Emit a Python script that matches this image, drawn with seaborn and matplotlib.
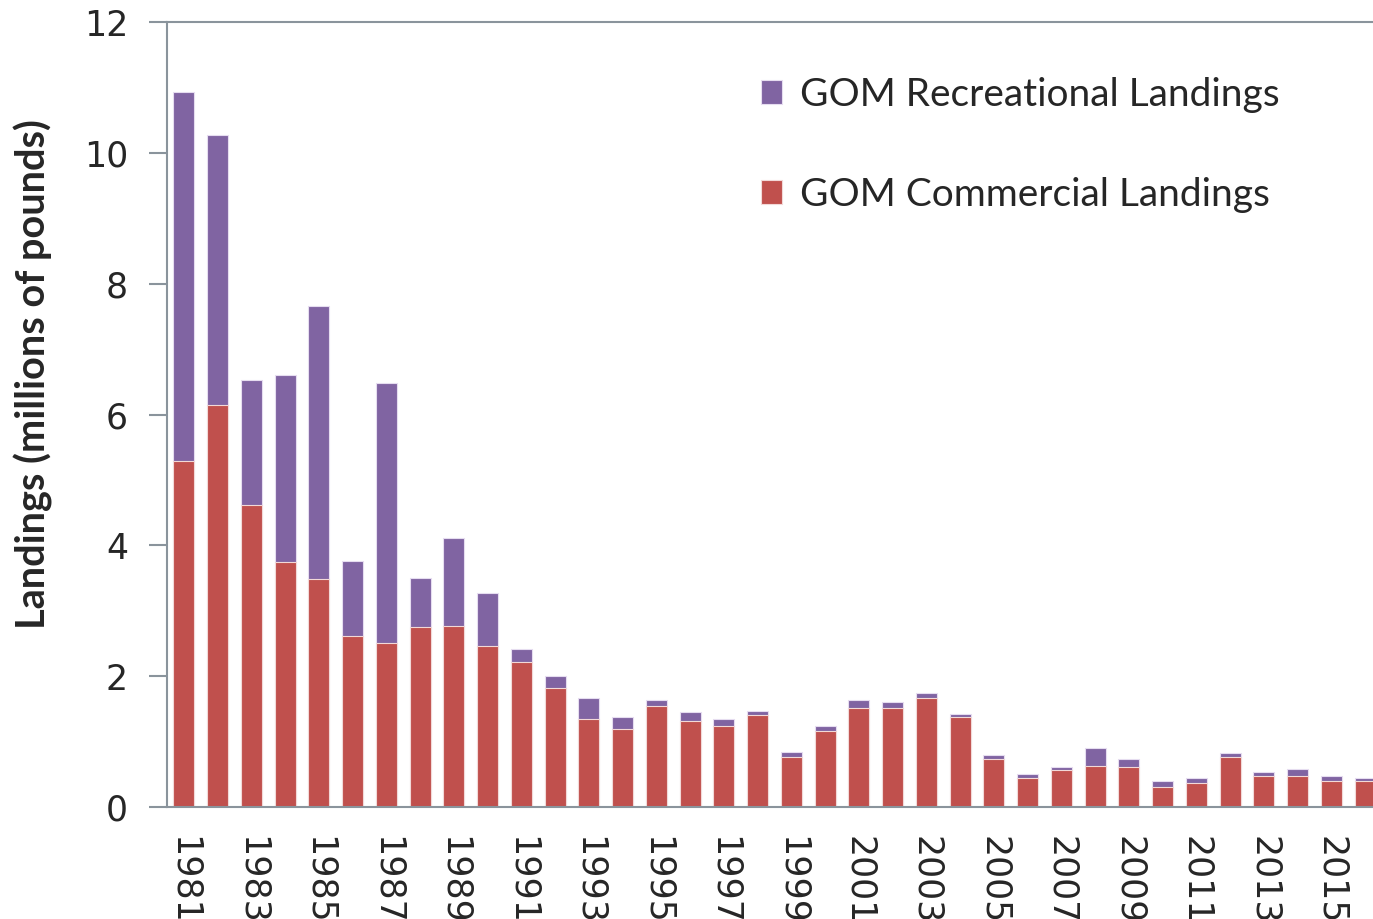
import seaborn as sns
import matplotlib.pyplot as plt
import pandas as pd

# dados (milhões de libras)
anos = list(range(1981, 2017))
total = [10.93, 10.28, 6.53, 6.61, 7.66, 3.76, 6.48, 3.50, 4.11, 3.27,
         2.42, 2.00, 1.66, 1.37, 1.63, 1.45, 1.34, 1.47, 0.84, 1.24,
         1.63, 1.61, 1.74, 1.42, 0.79, 0.50, 0.61, 0.90, 0.74, 0.39,
         0.45, 0.82, 0.53, 0.58, 0.47, 0.45]
comercial = [5.29, 6.15, 4.62, 3.75, 3.49, 2.61, 2.51, 2.75, 2.77, 2.46,
             2.22, 1.82, 1.34, 1.19, 1.55, 1.32, 1.24, 1.40, 0.76, 1.16,
             1.52, 1.52, 1.66, 1.37, 0.74, 0.45, 0.56, 0.63, 0.61, 0.30,
             0.37, 0.76, 0.48, 0.48, 0.40, 0.40]

df = pd.DataFrame({'ano': [str(a) for a in anos], 'total': total, 'comercial': comercial})

sns.set_style("white")
plt.rcParams['font.family'] = ['DejaVu Sans']

fig = plt.figure(figsize=(13.73, 9.19), dpi=100)
ax = fig.add_axes([167 / 1373, 1 - 807 / 919, (1382 - 167) / 1373, (807 - 22) / 919])

# barras empilhadas: total (roxo) por baixo, comercial (vermelho) por cima
sns.barplot(data=df, x='ano', y='total', color='#8064A2', width=0.62,
            edgecolor='#E6DDF0', linewidth=0.8, saturation=1, ax=ax,
            label='GOM Recreational Landings')
sns.barplot(data=df, x='ano', y='comercial', color='#C0504D', width=0.62,
            edgecolor='#F2D9D8', linewidth=0.8, saturation=1, ax=ax,
            label='GOM Commercial Landings')

ax.set_ylim(0, 12)
ax.set_yticks(range(0, 13, 2))
ax.set_xlim(-0.5, len(anos) - 0.5)
ax.set_xticks(range(0, len(anos), 2))
ax.set_xticklabels([str(a) for a in anos[::2]], rotation=-90, fontsize=25,
                   va='top', ha='center')
ax.tick_params(axis='y', labelsize=25, length=13, width=1.5, color='#8A949C',
               direction='out', pad=15, left=True)
ax.tick_params(axis='x', length=0, pad=21)

for side in ['left', 'bottom', 'top']:
    ax.spines[side].set_color('#8A949C')
    ax.spines[side].set_linewidth(1.5)
ax.spines['right'].set_visible(False)

ax.set_xlabel('')
ax.set_ylabel('Landings (millions of pounds)', fontsize=28.5, fontweight='bold',
              family=['Lato', 'DejaVu Sans'])
ax.yaxis.set_label_coords((53 - 167) / 1215, (807 - 374) / 785)

leg = ax.legend(loc='upper left', bbox_to_anchor=(0.46, 0.975), frameon=False,
                prop={'family': 'Lato', 'size': 28}, handlelength=0.55,
                handleheight=0.55, handletextpad=0.45, labelspacing=1.65)

fig.savefig('out.png', dpi=100)
